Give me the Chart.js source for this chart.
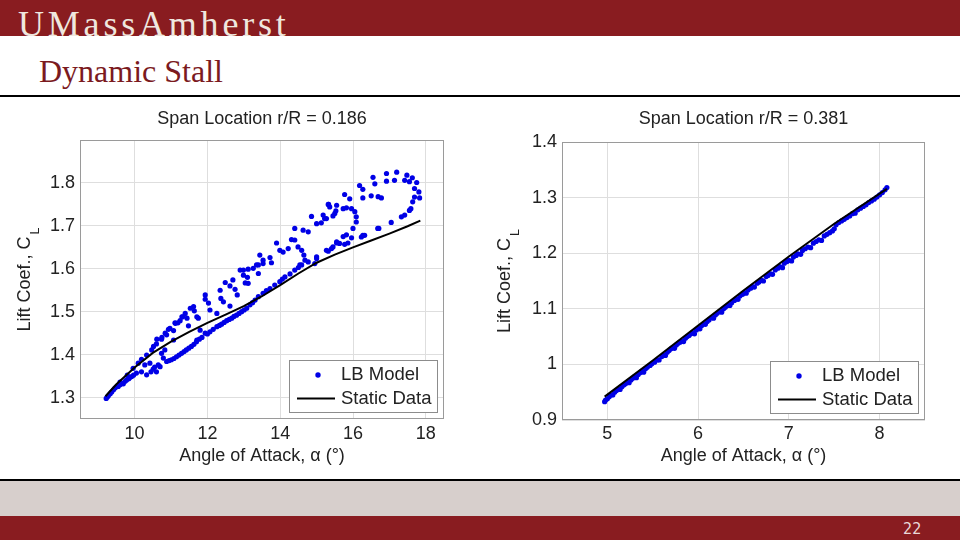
<!DOCTYPE html>
<html><head><meta charset="utf-8">
<script src="https://cdn.jsdelivr.net/npm/chart.js@4.4.1/dist/chart.umd.min.js"></script>
<style>
html,body{margin:0;padding:0;width:960px;height:540px;overflow:hidden;background:#fff;}
#hdr{position:absolute;left:0;top:0;width:960px;height:36px;background:#891c20;overflow:hidden;}
#logo{position:absolute;left:18px;top:5px;font-family:"Liberation Serif",serif;font-size:36px;line-height:38px;color:#efe7df;letter-spacing:3.8px;white-space:nowrap;}
#ttl{position:absolute;left:39px;top:54px;font-family:"Liberation Serif",serif;font-size:32px;line-height:34px;color:#7b1a1e;white-space:nowrap;}
#rule1{position:absolute;left:0;top:95px;width:960px;height:2px;background:#000;}
#rule2{position:absolute;left:0;top:479px;width:960px;height:2px;background:#000;}
#grey{position:absolute;left:0;top:481px;width:960px;height:35px;background:#d7cfcc;}
#ftr{position:absolute;left:0;top:516px;width:960px;height:24px;background:#891c20;}
#pg{position:absolute;left:903px;top:521px;font-family:"Liberation Sans Narrow","DejaVu Sans Condensed",sans-serif;font-size:16px;line-height:16px;color:#ead8d8;}
canvas{position:absolute;top:100px;}
#c1{left:0;} #c2{left:480px;}
</style></head>
<body>
<div id="hdr"><div id="logo">UMassAmherst</div></div>
<div id="ttl">Dynamic Stall</div>
<div id="rule1"></div>
<canvas id="c1" width="470" height="375"></canvas>
<canvas id="c2" width="470" height="375"></canvas>
<div id="rule2"></div>
<div id="grey"></div>
<div id="ftr"></div>
<div id="pg">22</div>
<script>
// ---------- data ----------
const chartTitles = ['Span Location r/R = 0.186', 'Span Location r/R = 0.381'];
const seriesNames = ['LB Model', 'Static Data'];
const xAxisTitle = 'Angle of Attack, \u03B1 (\u00B0)';
const yAxisTitleMain = 'Lift Coef., C';
const yAxisTitleSub = 'L';

const xTicks186 = [10, 12, 14, 16, 18];
const yTicks186 = [1.3, 1.4, 1.5, 1.6, 1.7, 1.8];
const yTickLabels186 = ['1.3', '1.4', '1.5', '1.6', '1.7', '1.8'];
const xTicks381 = [5, 6, 7, 8];
const yTicks381 = [0.9, 1, 1.1, 1.2, 1.3, 1.4];
const yTickLabels381 = ['0.9', '1', '1.1', '1.2', '1.3', '1.4'];

const static186 = [[9.2,1.303],[9.5,1.331],[10,1.370],[10.5,1.404],[11,1.430],[11.5,1.453],[12,1.474],[12.5,1.493],[13,1.513],[13.5,1.536],[14,1.562],[14.5,1.589],[15,1.614],[15.5,1.633],[16,1.650],[16.5,1.666],[17,1.682],[17.5,1.699],[17.85,1.712]];

const lbModel186 = [
[9.22,1.298],[9.25,1.301],[9.28,1.304],[9.33,1.309],[9.37,1.313],[9.42,1.318],[9.46,1.322],[9.50,1.325],[9.55,1.326],[9.60,1.330],[9.65,1.333],[9.69,1.332],[9.74,1.338],[9.78,1.341],[9.84,1.344],[9.88,1.347],[9.92,1.349],[9.97,1.352],[10.05,1.357],
[9.60,1.336],[9.80,1.352],[9.96,1.368],[10.10,1.380],[10.19,1.389],[10.33,1.399],[10.47,1.411],[10.60,1.425],[10.74,1.436],[10.88,1.446],[10.97,1.461],[11.11,1.474],
[10.52,1.419],[10.61,1.436],[10.75,1.440],[10.84,1.450],[10.93,1.459],[11.07,1.456],[11.12,1.473],[11.25,1.479],[11.30,1.488],[11.39,1.496],[11.44,1.485],[11.53,1.508],[11.62,1.512],[11.75,1.485],[11.80,1.457],[11.94,1.539],[11.94,1.529],[12.03,1.520],[12.07,1.504],[12.26,1.496],[12.35,1.550],[12.37,1.531],[12.44,1.523],[12.49,1.568],[12.62,1.560],[12.70,1.574],[12.76,1.552],[12.82,1.539],[12.99,1.597],[12.99,1.585],[13.12,1.599],[13.12,1.566],[13.26,1.601],[13.40,1.589],[13.40,1.609],
[11.19,1.474],[11.32,1.488],[11.48,1.467],[11.64,1.502],[11.71,1.488],[11.07,1.434],[12.90,1.597],[13.04,1.567],[13.10,1.580],
[10.19,1.360],[10.28,1.376],[10.33,1.353],[10.42,1.380],[10.45,1.360],[10.51,1.366],[10.55,1.371],[10.60,1.360],[10.65,1.376],[10.70,1.372],
[10.74,1.403],[10.79,1.392],[10.83,1.411],[10.88,1.384],[10.95,1.386],[11.01,1.388],[11.08,1.391],[11.15,1.395],[11.22,1.399],[11.29,1.403],[11.36,1.407],[11.42,1.411],[11.49,1.415],[11.56,1.419],[11.63,1.424],[11.70,1.430],[11.71,1.434],[11.78,1.436],[11.85,1.440],[11.94,1.450],[12.00,1.448],[12.07,1.453],[12.16,1.459],[12.26,1.465],[12.33,1.468],[12.39,1.471],[12.46,1.475],[12.53,1.479],[12.60,1.482],[12.62,1.513],[12.67,1.485],[12.73,1.489],[12.80,1.492],[12.87,1.496],[12.94,1.500],[13.01,1.504],[13.08,1.508],[13.17,1.516],[13.24,1.521],[13.31,1.527],[13.40,1.535],[13.53,1.543],[13.62,1.549],[13.72,1.554],[13.85,1.562],[13.99,1.570],[14.06,1.576],[14.13,1.581],[14.27,1.588],[14.40,1.597],[14.50,1.603],[14.59,1.609],[14.77,1.616],[14.95,1.612],[15.00,1.624],[15.00,1.628],[15.27,1.643],[15.41,1.647],[15.55,1.663],
[13.35,1.609],[13.44,1.632],[13.53,1.620],[13.53,1.612],[13.72,1.626],[13.76,1.614],[13.90,1.660],[13.99,1.643],[14.08,1.639],[14.22,1.647],[14.31,1.668],[14.40,1.667],[14.49,1.651],[14.59,1.643],[14.65,1.632],[14.68,1.620],[14.54,1.609],[14.40,1.694],[14.63,1.690],[14.77,1.686],[14.86,1.722],[15.00,1.705],[15.13,1.707],[15.27,1.717],[15.33,1.750],[15.45,1.723],[15.53,1.735],
[15.18,1.725],[15.22,1.717],[15.32,1.750],[15.36,1.744],[15.50,1.729],[15.55,1.748],[15.73,1.740],[15.77,1.773],[15.82,1.742],[15.91,1.763],[15.96,1.740],[16.05,1.733],[16.09,1.721],[16.09,1.709],[16.00,1.694],[15.82,1.679],[15.73,1.675],[15.55,1.660],[15.45,1.651],[15.32,1.641],[15.86,1.660],[15.96,1.672],[15.77,1.657],[15.63,1.659],
[16.18,1.794],[16.27,1.785],[16.27,1.765],[16.50,1.770],[16.69,1.768],[16.78,1.765],[16.55,1.813],[16.60,1.798],[16.92,1.822],[16.92,1.804],[17.14,1.806],[17.20,1.825],[17.42,1.806],[17.48,1.818],[17.55,1.803],[17.63,1.812],[17.69,1.787],[17.75,1.801],[17.81,1.779],[17.83,1.765],[17.69,1.767],[17.64,1.756],[17.59,1.740],[17.55,1.736],[17.42,1.725],[17.33,1.721],[17.05,1.708],[16.71,1.694],[16.27,1.678],[16.23,1.674],[16.32,1.678],[16.68,1.694]
];

const static381 = [[4.97,0.942],[5.5,1.007],[6.0,1.070],[6.5,1.133],[7.0,1.194],[7.5,1.253],[8.0,1.307],[8.08,1.3157]];

const lbModel381 = [
[4.97,0.933],[4.98,0.936],[5.00,0.938],[5.02,0.942],[5.04,0.945],[5.06,0.945],[5.08,0.950],[5.10,0.953],[5.12,0.955],[5.14,0.955],[5.16,0.960],[5.18,0.963],[5.20,0.965],[5.22,0.968],[5.24,0.967],[5.26,0.972],[5.28,0.975],[5.30,0.978],[5.32,0.976],[5.34,0.982],[5.36,0.985],[5.38,0.988],[5.40,0.986],[5.42,0.992],[5.44,0.995],[5.47,0.998],[5.49,1.001],[5.52,1.004],[5.55,1.008],[5.57,1.008],[5.60,1.014],[5.62,1.017],[5.64,1.016],[5.66,1.022],[5.68,1.025],[5.70,1.028],[5.72,1.030],[5.74,1.029],[5.76,1.035],[5.78,1.038],[5.80,1.040],[5.82,1.042],[5.84,1.041],[5.86,1.047],[5.88,1.050],[5.90,1.052],[5.92,1.055],[5.94,1.057],[5.96,1.055],[5.98,1.062],[6.00,1.065],[6.02,1.064],[6.04,1.070],[6.06,1.073],[6.08,1.072],[6.10,1.077],[6.12,1.080],[6.15,1.084],[6.17,1.083],[6.19,1.089],[6.21,1.092],[6.24,1.095],[6.26,1.094],[6.28,1.100],[6.30,1.103],[6.33,1.106],[6.35,1.106],[6.37,1.111],[6.40,1.115],[6.42,1.118],[6.44,1.117],[6.46,1.123],[6.49,1.126],[6.51,1.129],[6.53,1.128],[6.55,1.134],[6.58,1.137],[6.60,1.140],[6.62,1.139],[6.65,1.146],[6.67,1.148],[6.70,1.151],[6.72,1.150],[6.75,1.158],[6.77,1.160],[6.80,1.163],[6.82,1.162],[6.85,1.170],[6.88,1.173],[6.90,1.176],[6.93,1.174],[6.95,1.182],[6.98,1.185],[7.00,1.187],[7.03,1.186],[7.05,1.193],[7.08,1.196],[7.10,1.199],[7.13,1.198],[7.15,1.205],[7.18,1.208],[7.21,1.211],[7.24,1.210],[7.27,1.218],[7.30,1.221],[7.33,1.224],[7.36,1.223],[7.39,1.231],[7.42,1.234],[7.45,1.237],[7.48,1.240],[7.50,1.244],[7.52,1.251],[7.55,1.255],[7.58,1.258],[7.61,1.261],[7.64,1.264],[7.67,1.267],[7.70,1.271],[7.73,1.272],[7.76,1.278],[7.79,1.281],[7.82,1.284],[7.85,1.287],[7.88,1.291],[7.91,1.294],[7.94,1.297],[7.97,1.301],[8.00,1.305],[8.03,1.309],[8.06,1.314],[8.08,1.318]
];

// ---------- rendering ----------
const FONT = '"Liberation Sans", Arial, Helvetica, sans-serif';
const TXT = '#222222';
const BLUE = '#0000e6';
Chart.defaults.font.family = FONT;
Chart.defaults.color = TXT;

function toPts(arr) { return arr.map(p => ({x: p[0], y: p[1]})); }

const decoPlugin = {
  id: 'deco',
  afterDraw(chart) {
    const ctx = chart.ctx, a = chart.chartArea;
    ctx.save();
    // axes box
    ctx.strokeStyle = '#9a9a9a'; ctx.lineWidth = 1;
    ctx.strokeRect(Math.round(a.left) + 0.5, Math.round(a.top) + 0.5, Math.round(a.right - a.left) - 1, Math.round(a.bottom - a.top) - 1);
    // legend box
    const bw = 149, bh = 53;
    const bx = Math.round(a.right - 6 - bw), by = Math.round(a.bottom - 6 - bh);
    ctx.fillStyle = '#ffffff'; ctx.fillRect(bx, by, bw, bh);
    ctx.strokeStyle = '#8c8c8c'; ctx.strokeRect(bx + 0.5, by + 0.5, bw - 1, bh - 1);
    ctx.fillStyle = BLUE; ctx.beginPath(); ctx.arc(bx + 29, by + 15, 2.7, 0, Math.PI * 2); ctx.fill();
    ctx.strokeStyle = '#000'; ctx.lineWidth = 2; ctx.beginPath(); ctx.moveTo(bx + 8, by + 38.5); ctx.lineTo(bx + 46, by + 38.5); ctx.stroke();
    ctx.fillStyle = TXT; ctx.font = '18.5px ' + FONT; ctx.textBaseline = 'middle'; ctx.textAlign = 'left';
    ctx.fillText(seriesNames[0], bx + 52, by + 15);
    ctx.fillText(seriesNames[1], bx + 52, by + 39);
    // y axis title with subscript
    const cy = (a.top + a.bottom) / 2;
    ctx.translate(25, cy); ctx.rotate(-Math.PI / 2);
    ctx.font = '18px ' + FONT;
    const w1 = ctx.measureText(yAxisTitleMain).width;
    ctx.font = '12.5px ' + FONT;
    const w2 = ctx.measureText(yAxisTitleSub).width;
    const sx = -(w1 + w2 + 2) / 2;
    ctx.font = '18px ' + FONT; ctx.fillStyle = TXT;
    ctx.fillText(yAxisTitleMain, sx, 0);
    ctx.font = '12.5px ' + FONT;
    ctx.fillText(yAxisTitleSub, sx + w1 + 2, 11);
    ctx.restore();
  }
};

function makeChart(id, opts) {
  return new Chart(document.getElementById(id), {
    type: 'scatter',
    data: {
      datasets: [
        { label: seriesNames[1], data: toPts(opts.stat), showLine: true, borderColor: '#000', borderWidth: 2, pointRadius: 0, tension: 0, order: 0 },
        { label: seriesNames[0], data: toPts(opts.lb), showLine: false, pointRadius: 2.6, pointBackgroundColor: BLUE, pointBorderWidth: 0, pointHoverRadius: 2.6, order: 1 }
      ]
    },
    options: {
      responsive: false, animation: false, events: [],
      layout: { padding: { left: 0, right: opts.padRight, top: 0, bottom: 0 } },
      plugins: {
        legend: { display: false }, tooltip: { enabled: false },
        title: { display: true, text: opts.title, fullSize: false, color: TXT,
                 font: { size: 18, weight: 'normal', family: FONT, lineHeight: 1.2 },
                 padding: { top: 8, bottom: opts.titlePadBottom } }
      },
      scales: {
        x: {
          type: 'linear', min: opts.xMin, max: opts.xMax,
          afterBuildTicks: s => { s.ticks = opts.xTicks.map(v => ({ value: v })); },
          afterFit: s => { s.height = opts.xAxisH; },
          ticks: { font: { size: 18, family: FONT }, color: TXT, padding: opts.xTickPad, maxRotation: 0,
                   callback: v => String(v) },
          grid: { color: '#dedede', lineWidth: 1, drawTicks: false },
          border: { display: false },
          title: { display: true, text: xAxisTitle, color: TXT, font: { size: 18, family: FONT, lineHeight: 1.2 }, padding: { top: 0, bottom: 8 } }
        },
        y: {
          type: 'linear', min: opts.yMin, max: opts.yMax,
          afterBuildTicks: s => { s.ticks = opts.yTicks.map(v => ({ value: v })); },
          afterFit: s => { s.width = opts.yAxisW; },
          ticks: { font: { size: 18, family: FONT }, color: TXT, padding: 5,
                   callback: (v, i) => opts.yLabels[i] },
          grid: { color: '#dedede', lineWidth: 1, drawTicks: false },
          border: { display: false }
        }
      }
    },
    plugins: [decoPlugin]
  });
}

makeChart('c1', { title: chartTitles[0], lb: lbModel186, stat: static186,
  xMin: 8.5, xMax: 18.5, yMin: 1.25, yMax: 1.9, xTicks: xTicks186, yTicks: yTicks186, yLabels: yTickLabels186,
  padRight: 26, titlePadBottom: 10.4, xAxisH: 56, yAxisW: 80, xTickPad: 4 });
makeChart('c2', { title: chartTitles[1], lb: lbModel381, stat: static381,
  xMin: 4.5, xMax: 8.5, yMin: 0.9, yMax: 1.4, xTicks: xTicks381, yTicks: yTicks381, yLabels: yTickLabels381,
  padRight: 25, titlePadBottom: 12.4, xAxisH: 55, yAxisW: 82, xTickPad: 3 });
</script>
</body></html>
